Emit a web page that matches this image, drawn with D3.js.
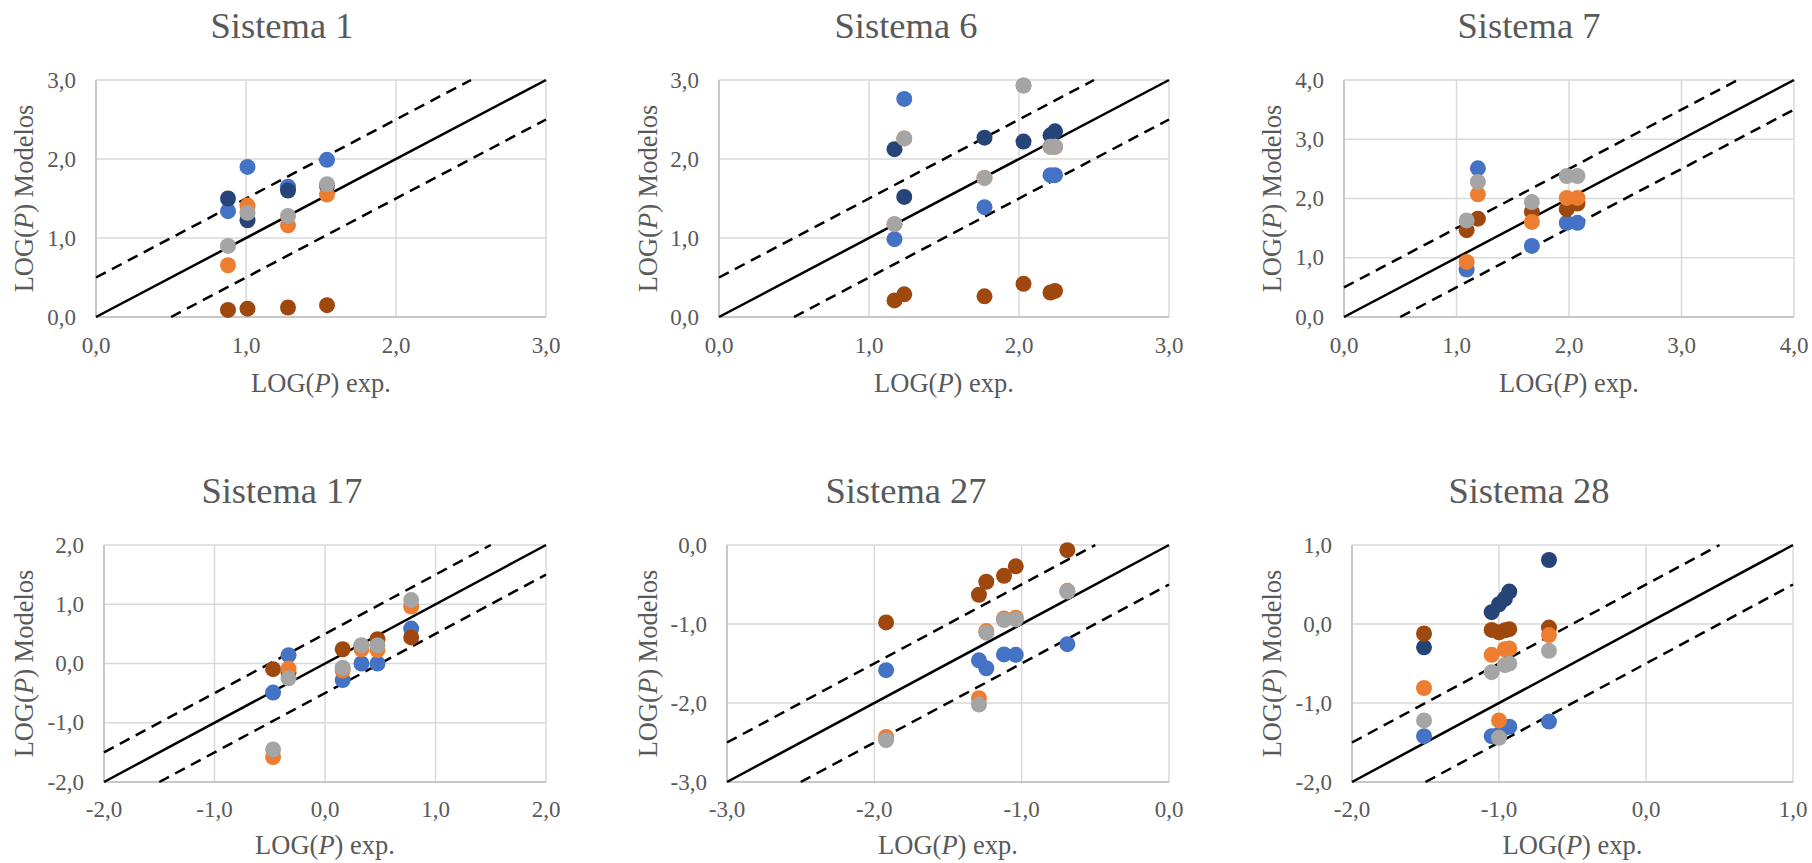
<!DOCTYPE html>
<html><head><meta charset="utf-8">
<script src="https://cdn.jsdelivr.net/npm/d3@7"></script>
<style>body{margin:0;background:#fff} svg{display:block}</style>
</head><body>
<svg id="chart" width="1812" height="863"></svg>
<script>
// ---- data ----
const titles = ["Sistema 1", "Sistema 6", "Sistema 7", "Sistema 17", "Sistema 27", "Sistema 28"];
const xTitle = "exp.";
const yTitle = "Modelos";
const seriesColors = ["#4472C4", "#264478", "#9E480E", "#ED7D31", "#A5A5A5"]; // blue, navy, brown, orange, gray

const x1 = [0.88, 1.01, 1.28, 1.54];
const blue1 = [1.34, 1.90, 1.65, 1.99];
const navy1 = [1.50, 1.225, 1.60, 1.66];
const brown1 = [0.09, 0.105, 0.12, 0.15];
const orange1 = [0.655, 1.41, 1.16, 1.55];
const gray1 = [0.90, 1.32, 1.28, 1.68];

const x6 = [1.17, 1.235, 1.77, 2.03, 2.21, 2.24];
const blue6 = [0.985, 2.76, 1.39, null, 1.795, 1.795];
const navy6 = [2.125, 1.52, 2.27, 2.22, 2.30, 2.35];
const brown6 = [0.21, 0.287, 0.262, 0.42, 0.31, 0.33];
const orange6 = [1.175, 2.26, 1.76, 2.93, 2.155, 2.155];
const gray6 = [1.175, 2.26, 1.76, 2.93, 2.155, 2.155];

const x7 = [1.09, 1.19, 1.67, 1.98, 2.075];
const blue7 = [0.80, 2.51, 1.20, 1.59, 1.59];
const navy7 = [null, null, null, null, null];
const brown7 = [1.465, 1.66, 1.775, 1.82, 1.915];
const orange7 = [0.93, 2.07, 1.605, 2.01, 2.01];
const gray7 = [1.63, 2.28, 1.94, 2.38, 2.38];

const x17 = [-0.47, -0.33, 0.16, 0.33, 0.475, 0.78];
const blue17 = [-0.49, 0.14, -0.28, 0.0, 0.0, 0.59];
const navy17 = [null, null, null, null, null, null];
const brown17 = [-0.095, -0.15, 0.24, 0.30, 0.41, 0.44];
const orange17 = [-1.58, -0.085, -0.12, 0.24, 0.225, 0.96];
const gray17 = [-1.45, -0.25, -0.07, 0.31, 0.31, 1.07];

const x27 = [-1.92, -1.29, -1.24, -1.12, -1.04, -0.69];
const blue27 = [-1.585, -1.46, -1.56, -1.385, -1.39, -1.255];
const navy27 = [null, null, null, null, null, null];
const brown27 = [-0.98, -0.63, -0.465, -0.39, -0.27, -0.065];
const orange27 = [-2.43, -1.94, -1.09, -0.93, -0.92, -0.58];
const gray27 = [-2.47, -2.02, -1.11, -0.95, -0.94, -0.59];

const x28 = [-1.51, -1.05, -1.0, -0.96, -0.93, -0.66];
const blue28 = [-1.42, -1.42, -1.40, -1.31, -1.30, -1.235];
const navy28 = [-0.295, 0.15, 0.25, 0.32, 0.41, 0.81];
const brown28 = [-0.12, -0.075, -0.105, -0.08, -0.065, -0.045];
const orange28 = [-0.81, -0.39, -1.22, -0.32, -0.31, -0.14];
const gray28 = [-1.22, -0.61, -1.44, -0.52, -0.50, -0.34];

const domains = [[0, 3], [0, 3], [0, 4], [-2, 2], [-3, 0], [-2, 1]];

const panelData = [
  {x: x1, ys: [blue1, navy1, brown1, orange1, gray1]},
  {x: x6, ys: [blue6, navy6, brown6, orange6, gray6]},
  {x: x7, ys: [blue7, navy7, brown7, orange7, gray7]},
  {x: x17, ys: [blue17, navy17, brown17, orange17, gray17]},
  {x: x27, ys: [blue27, navy27, brown27, orange27, gray27]},
  {x: x28, ys: [blue28, navy28, brown28, orange28, gray28]}
];

// ---- layout ----
const layout = [
  {l: 96, r: 546, t: 80, b: 317, tc: 282, ty: 38, yt: 24, tickDy: 36, titleDy: 75},
  {l: 719, r: 1169, t: 80, b: 317, tc: 906, ty: 38, yt: 648, tickDy: 36, titleDy: 75},
  {l: 1344, r: 1794, t: 80, b: 317, tc: 1529, ty: 38, yt: 1272, tickDy: 36, titleDy: 75},
  {l: 104, r: 546, t: 545, b: 782, tc: 282, ty: 503, yt: 24, tickDy: 35, titleDy: 72},
  {l: 727, r: 1169, t: 545, b: 782, tc: 906, ty: 503, yt: 648, tickDy: 35, titleDy: 72},
  {l: 1352, r: 1793, t: 545, b: 782, tc: 1529, ty: 503, yt: 1272, tickDy: 35, titleDy: 72}
];

const loc = d3.formatLocale({decimal: ",", thousands: ".", grouping: [3], currency: ["", ""], minus: "-"});
const fmt = loc.format(".1f");
const FONT = "'Liberation Serif', 'Times New Roman', serif";
const TXT = "#595959";

const svg = d3.select("#chart");

function logLabel(sel, suffix) {
  sel.append("tspan").text("LOG(");
  sel.append("tspan").attr("font-style", "italic").text("P");
  sel.append("tspan").text(") " + suffix);
}

panelData.forEach((pd, i) => {
  const L = layout[i];
  const dom = domains[i];
  const x = d3.scaleLinear().domain(dom).range([L.l, L.r]);
  const y = d3.scaleLinear().domain(dom).range([L.b, L.t]);
  const ticks = d3.range(dom[0], dom[1] + 0.001, 1);
  const g = svg.append("g");

  // title
  g.append("text").attr("x", L.tc).attr("y", L.ty).attr("text-anchor", "middle")
    .attr("font-family", FONT).attr("font-size", 36.5).attr("fill", TXT).text(titles[i]);

  // grid
  g.selectAll(".vg").data(ticks).join("line")
    .attr("x1", d => x(d)).attr("x2", d => x(d)).attr("y1", L.t).attr("y2", L.b)
    .attr("stroke", "#d9d9d9").attr("stroke-width", 1.5);
  g.selectAll(".hg").data(ticks).join("line")
    .attr("x1", L.l).attr("x2", L.r).attr("y1", d => y(d)).attr("y2", d => y(d))
    .attr("stroke", "#d9d9d9").attr("stroke-width", 1.5);
  // axis lines
  g.append("line").attr("x1", L.l).attr("x2", L.r).attr("y1", L.b).attr("y2", L.b)
    .attr("stroke", "#bfbfbf").attr("stroke-width", 1.5);
  g.append("line").attr("x1", L.l).attr("x2", L.l).attr("y1", L.t).attr("y2", L.b)
    .attr("stroke", "#bfbfbf").attr("stroke-width", 1.5);

  // tick labels
  g.selectAll(".xt").data(ticks).join("text")
    .attr("x", d => x(d)).attr("y", L.b + L.tickDy).attr("text-anchor", "middle")
    .attr("font-family", FONT).attr("font-size", 23).attr("fill", TXT).text(d => fmt(d));
  g.selectAll(".yt").data(ticks).join("text")
    .attr("x", L.l - 20).attr("y", d => y(d)).attr("dy", "0.33em").attr("text-anchor", "end")
    .attr("font-family", FONT).attr("font-size", 23).attr("fill", TXT).text(d => fmt(d));

  // axis titles
  const xt = g.append("text").attr("x", (L.l + L.r) / 2).attr("y", L.b + L.titleDy)
    .attr("text-anchor", "middle").attr("font-family", FONT).attr("font-size", 26.5).attr("fill", TXT);
  logLabel(xt, xTitle);
  const yt = g.append("text").attr("transform", `translate(${L.yt + 9},${(L.t + L.b) / 2}) rotate(-90)`)
    .attr("text-anchor", "middle").attr("font-family", FONT).attr("font-size", 26.5).attr("fill", TXT);
  logLabel(yt, yTitle);

  // reference lines, clipped to the domain
  const clip = (off) => {
    const x0 = Math.max(dom[0], dom[0] - off), x1e = Math.min(dom[1], dom[1] - off);
    return [[x0, x0 + off], [x1e, x1e + off]];
  };
  const line = d3.line().x(d => x(d[0])).y(d => y(d[1]));
  g.append("path").attr("d", line(clip(0))).attr("fill", "none").attr("stroke", "#000").attr("stroke-width", 2.5);
  [0.5, -0.5].forEach(off => {
    g.append("path").attr("d", line(clip(off))).attr("fill", "none").attr("stroke", "#000")
      .attr("stroke-width", 2.5).attr("stroke-dasharray", "11,7");
  });

  // points
  pd.ys.forEach((ys, s) => {
    const pts = pd.x.map((xv, k) => [xv, ys[k]]).filter(p => p[1] !== null);
    g.selectAll(null).data(pts).join("circle")
      .attr("cx", d => x(d[0])).attr("cy", d => y(d[1])).attr("r", 8)
      .attr("fill", seriesColors[s]);
  });
});
</script>
</body></html>
